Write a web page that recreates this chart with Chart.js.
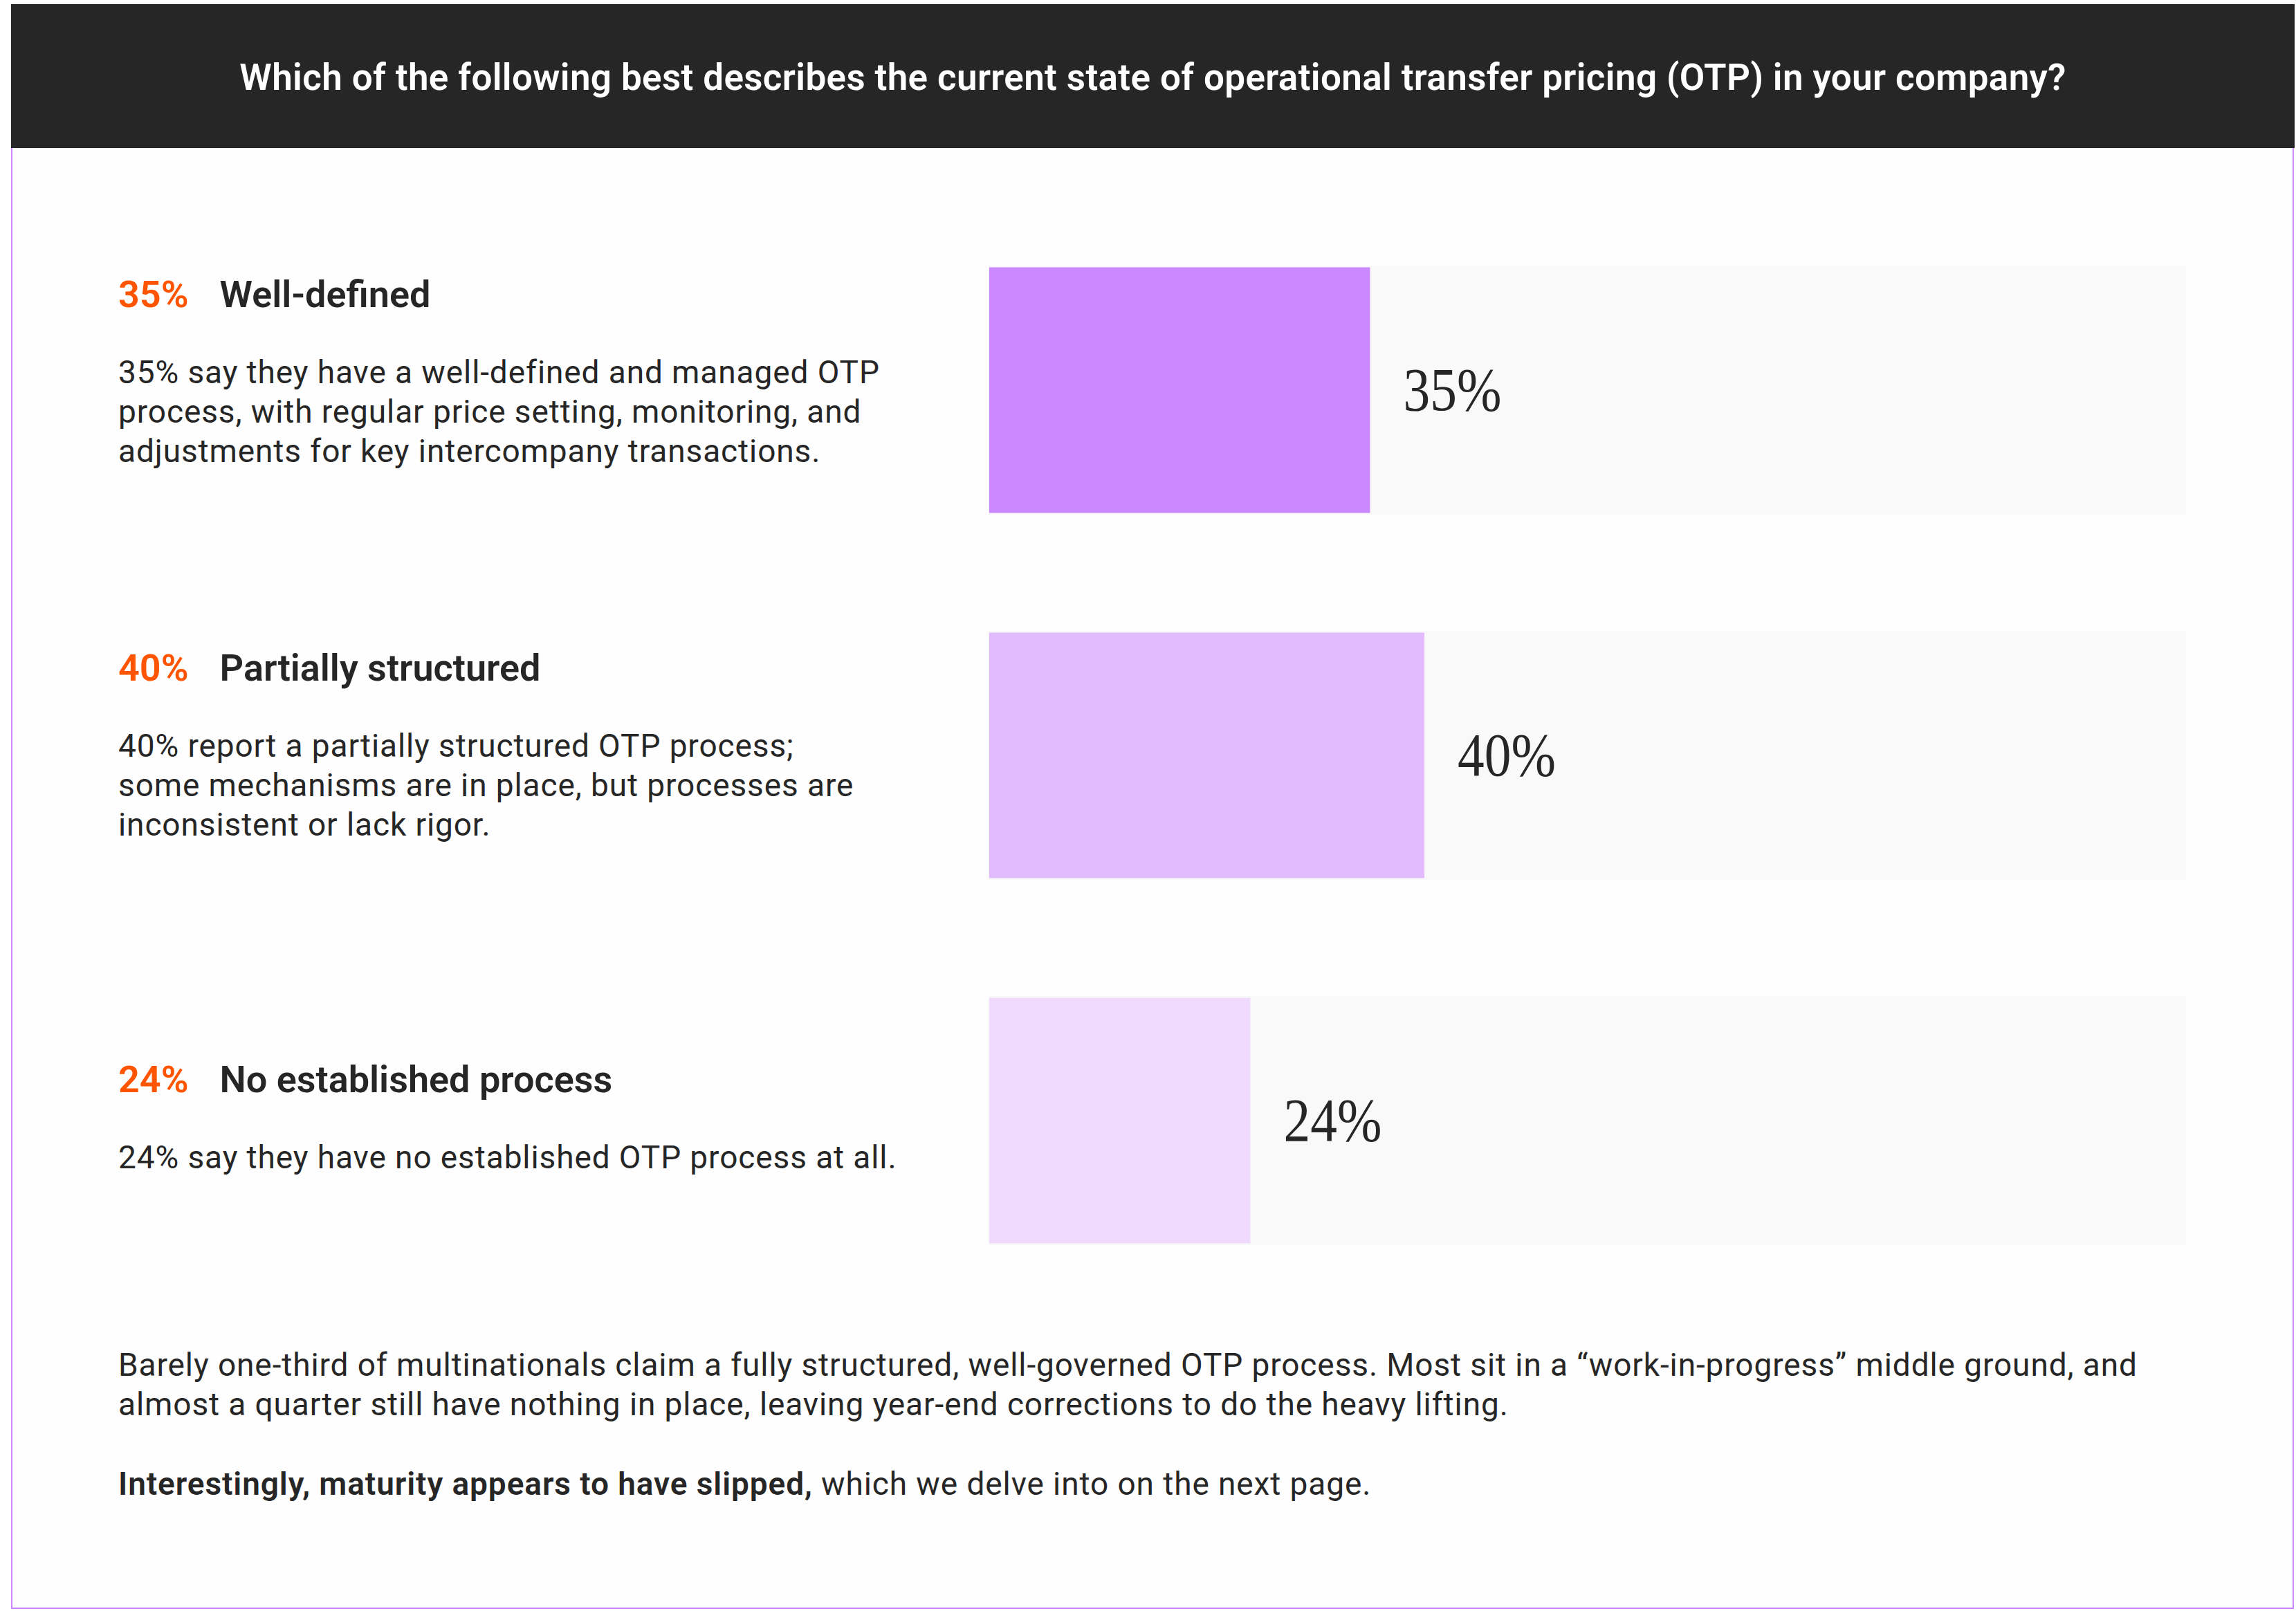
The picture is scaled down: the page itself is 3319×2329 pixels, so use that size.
<!DOCTYPE html>
<html>
<head>
<meta charset="utf-8">
<title>Operational transfer pricing maturity</title>
<script src="https://cdn.jsdelivr.net/npm/chart.js@4.4.1/dist/chart.umd.min.js"></script>
<style>
  html, body { margin: 0; padding: 0; background: #ffffff; }
  body { width: 3319px; height: 2329px; position: relative; overflow: hidden;
         font-family: Roboto, "Noto Sans", sans-serif; color: #262626; }
  #header { position: absolute; left: 16px; top: 6px; width: 3301px; height: 208px; background: #262626; }
  #title { position: absolute; left: 0; right: 0; top: 80px; text-align: center; color: #ffffff;
           font-size: 53px; line-height: 53px; font-weight: 600; letter-spacing: 0.35px; white-space: nowrap; }
  #frame { position: absolute; left: 16px; top: 214px; width: 3296px; height: 2110px;
           border: 2px solid #cc88ff; border-top: none; background: #fefefe; }
  .block { position: absolute; left: 171px; }
  .block h2 { margin: 0; font-size: 54px; line-height: 54px; font-weight: 600; white-space: nowrap; }
  .block h2 .pct { color: #ff5500; margin-right: 45px; }
  .block p, #summary p { margin: 57px 0 0 0; font-size: 46px; line-height: 57px; font-weight: 400;
                         letter-spacing: 0.9px; white-space: nowrap; }
  #summary { position: absolute; left: 171px; top: 1945px; }
  #summary p { margin: 0; }
  #summary p + p { margin-top: 58px; }
  #summary b { font-weight: 600; }
  #chartBox { position: absolute; left: 1426px; top: 300px; width: 1734px; height: 1584px; }
</style>
</head>
<body>
<div id="header"><div id="title">Which of the following best describes the current state of operational transfer pricing (OTP) in your company?</div></div>
<div id="frame"></div>
<div id="blocks"></div>
<div id="summary">
  <p>Barely one-third of multinationals claim a fully structured, well-governed OTP process. Most sit in a “work-in-progress” middle ground, and<br>almost a quarter still have nothing in place, leaving year-end corrections to do the heavy lifting.</p>
  <p><b>Interestingly, maturity appears to have slipped,</b> which we delve into on the next page.</p>
</div>
<div id="chartBox"><canvas id="otpChart"></canvas></div>
<script>
const categories = ['Well-defined', 'Partially structured', 'No established process'];
const shares = [35, 40, 24];
const descriptions = [
  ['35% say they have a well-defined and managed OTP', 'process, with regular price setting, monitoring, and', 'adjustments for key intercompany transactions.'],
  ['40% report a partially structured OTP process;', 'some mechanisms are in place, but processes are', 'inconsistent or lack rigor.'],
  ['24% say they have no established OTP process at all.']
];

// left-hand text blocks
const blockTops = [399, 939, 1534];
const blocks = document.getElementById('blocks');
categories.forEach((name, i) => {
  const div = document.createElement('div');
  div.className = 'block';
  div.style.top = blockTops[i] + 'px';
  div.innerHTML = '<h2><span class="pct">' + shares[i] + '%</span>' + name + '</h2>' +
    '<p>' + descriptions[i].join('<br>') + '</p>';
  blocks.appendChild(div);
});

// grey track behind each bar, full width of the plot
const trackPlugin = {
  id: 'track',
  beforeDatasetsDraw(chart) {
    const { ctx, chartArea } = chart;
    ctx.save();
    ctx.fillStyle = '#f9f9f9';
    chart.getDatasetMeta(0).data.forEach(bar => {
      const { y, height } = bar.getProps(['y', 'height'], true);
      ctx.fillRect(chartArea.left - 2, y - height / 2 - 3, chartArea.right - chartArea.left + 2, height + 6);
    });
    ctx.restore();
  }
};

// serif value label just past the end of each bar
const valueLabels = {
  id: 'valueLabels',
  afterDatasetsDraw(chart) {
    const { ctx } = chart;
    ctx.save();
    ctx.fillStyle = '#262626';
    ctx.font = '88px "Liberation Serif", "DejaVu Serif", serif';
    ctx.textBaseline = 'alphabetic';
    chart.getDatasetMeta(0).data.forEach((bar, i) => {
      const { x, y } = bar.getProps(['x', 'y'], true);
      ctx.save();
      ctx.translate(x + 48, y + 29);
      ctx.scale(0.88, 1);
      ctx.fillText(shares[i] + '%', 0, 0);
      ctx.restore();
    });
    ctx.restore();
  }
};

new Chart(document.getElementById('otpChart'), {
  type: 'bar',
  data: {
    labels: categories,
    datasets: [{
      data: shares,
      backgroundColor: ['#cc88ff', '#e1bbfd', '#f0dbfe'],
      borderWidth: 0,
      barPercentage: 0.672,
      categoryPercentage: 1
    }]
  },
  options: {
    indexAxis: 'y',
    responsive: true,
    maintainAspectRatio: false,
    animation: false,
    layout: { padding: { left: 4, right: 0, top: 0, bottom: 0 } },
    plugins: { legend: { display: false }, tooltip: { enabled: false } },
    scales: {
      x: { display: false, min: 0, max: 110 },
      y: { display: false }
    }
  },
  plugins: [trackPlugin, valueLabels]
});
</script>
</body>
</html>
